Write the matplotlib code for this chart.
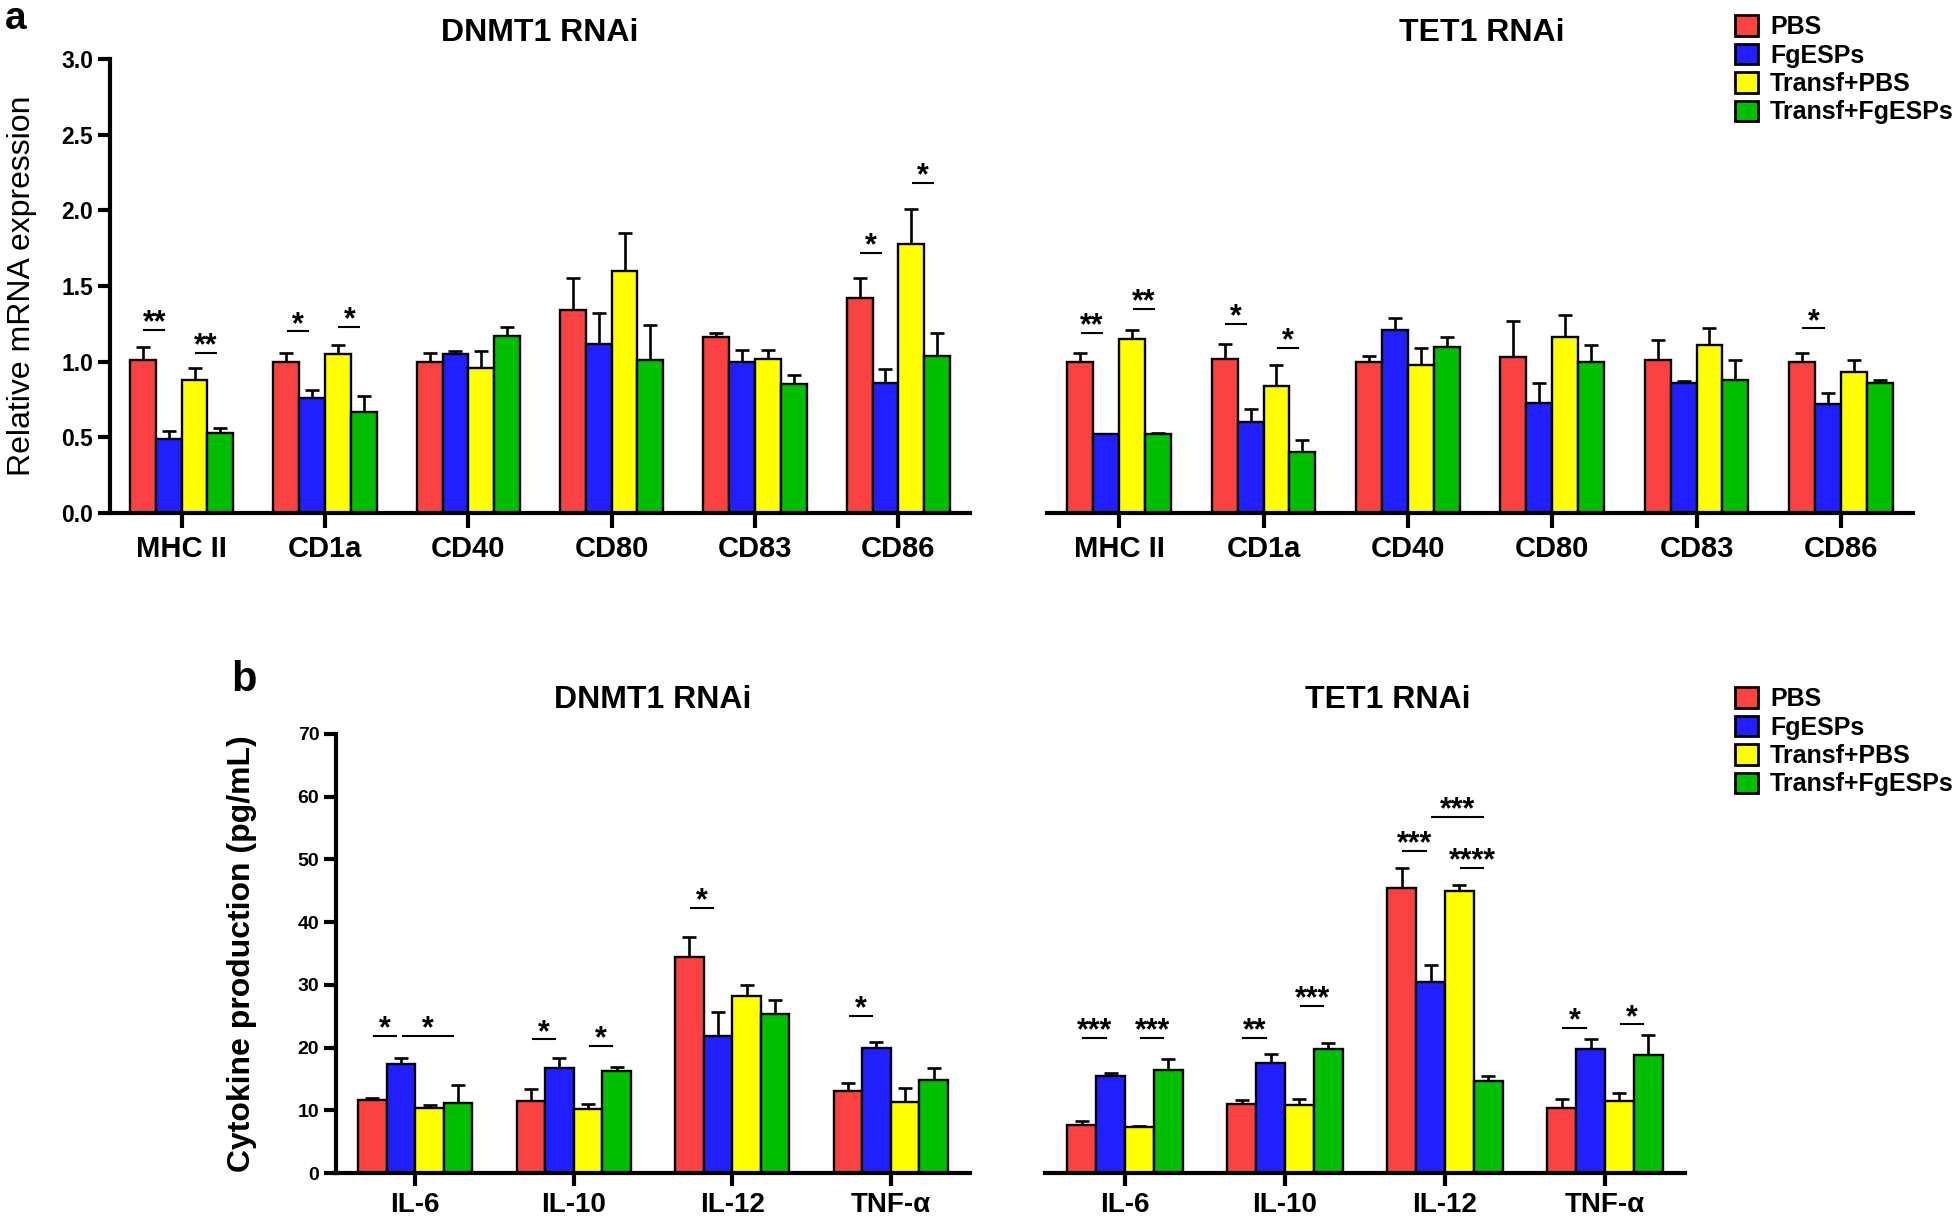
import matplotlib
matplotlib.use("Agg")
import matplotlib.pyplot as plt
import numpy as np
from matplotlib.patches import Patch
from matplotlib.ticker import FormatStrFormatter

plt.rcParams["font.family"] = ["Liberation Sans", "DejaVu Sans"]
plt.rcParams["font.weight"] = "bold"

# Groups and colours
groups = ["PBS", "FgESPs", "Transf+PBS", "Transf+FgESPs"]
colors = ["#FA4242", "#1F1FFF", "#FFFF00", "#00BE00"]

markers = ["MHC II", "CD1a", "CD40", "CD80", "CD83", "CD86"]
cytokines = ["IL-6", "IL-10", "IL-12", "TNF-α"]

# Relative mRNA expression, rows = groups, cols = markers
dnmt1_mrna = [
    [1.01, 1.00, 1.00, 1.34, 1.16, 1.42],
    [0.49, 0.76, 1.05, 1.12, 1.00, 0.86],
    [0.88, 1.05, 0.96, 1.60, 1.02, 1.78],
    [0.53, 0.67, 1.17, 1.01, 0.85, 1.04],
]
dnmt1_mrna_err = [
    [0.09, 0.06, 0.06, 0.21, 0.03, 0.13],
    [0.05, 0.05, 0.02, 0.20, 0.08, 0.09],
    [0.08, 0.06, 0.11, 0.25, 0.06, 0.23],
    [0.03, 0.10, 0.06, 0.23, 0.06, 0.15],
]
tet1_mrna = [
    [1.00, 1.02, 1.00, 1.03, 1.01, 1.00],
    [0.52, 0.60, 1.21, 0.73, 0.86, 0.72],
    [1.15, 0.84, 0.98, 1.16, 1.11, 0.93],
    [0.52, 0.40, 1.10, 1.00, 0.88, 0.86],
]
tet1_mrna_err = [
    [0.06, 0.10, 0.04, 0.24, 0.13, 0.06],
    [0.00, 0.09, 0.08, 0.13, 0.01, 0.07],
    [0.06, 0.14, 0.11, 0.15, 0.11, 0.08],
    [0.01, 0.08, 0.06, 0.11, 0.13, 0.02],
]

# Cytokine production (pg/mL), rows = groups, cols = cytokines
dnmt1_cyto = [
    [11.7, 11.5, 34.4, 13.0],
    [17.4, 16.7, 21.9, 19.9],
    [10.4, 10.2, 28.3, 11.4],
    [11.1, 16.3, 25.3, 14.8],
]
dnmt1_cyto_err = [
    [0.2, 1.9, 3.3, 1.3],
    [0.9, 1.6, 3.8, 1.0],
    [0.5, 0.8, 1.7, 2.2],
    [2.9, 0.6, 2.3, 2.0],
]
tet1_cyto = [
    [7.6, 11.0, 45.5, 10.4],
    [15.4, 17.6, 30.5, 19.8],
    [7.4, 10.9, 44.9, 11.5],
    [16.5, 19.8, 14.7, 18.8],
]
tet1_cyto_err = [
    [0.7, 0.6, 3.1, 1.4],
    [0.6, 1.4, 2.6, 1.6],
    [0.1, 0.9, 1.0, 1.3],
    [1.7, 0.9, 0.8, 3.2],
]

# Significance: (category, group i, group j, line height, label)
sig_a_dnmt1 = [(0, 0, 1, 1.21, "**"), (0, 2, 3, 1.06, "**"), (1, 0, 1, 1.20, "*"),
               (1, 2, 3, 1.23, "*"), (5, 0, 1, 1.72, "*"), (5, 2, 3, 2.18, "*")]
sig_a_tet1 = [(0, 0, 1, 1.19, "**"), (0, 2, 3, 1.35, "**"), (1, 0, 1, 1.25, "*"),
              (1, 2, 3, 1.09, "*"), (5, 0, 1, 1.22, "*")]
sig_b_dnmt1 = [(0, 0, 1, 21.8, "*"), (0, 1, 3, 21.8, "*"), (1, 0, 1, 21.3, "*"),
               (1, 2, 3, 20.2, "*"), (2, 0, 1, 42.2, "*"), (3, 0, 1, 25.1, "*")]
sig_b_tet1 = [(0, 0, 1, 21.5, "***"), (0, 2, 3, 21.6, "***"), (1, 0, 1, 21.6, "**"),
              (1, 2, 3, 26.7, "***"), (2, 0, 1, 51.3, "***"), (2, 2, 3, 48.7, "****"),
              (2, 1, 3, 56.8, "***"), (3, 0, 1, 23.2, "*"), (3, 2, 3, 23.7, "*")]

W, H = 1960, 1218
bar_w = 0.18
offsets = (np.arange(4) - 1.5) * bar_w


def px_axes(x0, x1, ytop, ybot):
    return [x0 / W, 1 - ybot / H, (x1 - x0) / W, (ybot - ytop) / H]


def draw_panel(ax, cats, means, errs, sigs, ylim, yticks, show_y, xfs, yfs, ticklen):
    x = np.arange(len(cats))
    for g in range(4):
        xs = x + offsets[g]
        ax.bar(xs, means[g], width=bar_w, color=colors[g], edgecolor="black",
               linewidth=1.7, zorder=2)
        ax.errorbar(xs, means[g], yerr=[np.zeros(len(cats)), errs[g]], fmt="none",
                    ecolor="black", elinewidth=1.9, capsize=5, capthick=1.9, zorder=1)
    for c, i, j, y, lab in sigs:
        x1 = x[c] + offsets[i] + 0.01
        x2 = x[c] + offsets[j] - 0.03
        ax.plot([x1, x2], [y, y], color="black", lw=1.5, clip_on=False)
        ax.annotate(lab, xy=((x1 + x2) / 2, y), xytext=(0, -1), textcoords="offset points",
                    ha="center", va="baseline", fontsize=22, fontweight="bold",
                    annotation_clip=False)
    ax.set_xlim(-0.5, len(cats) - 0.5)
    ax.set_ylim(*ylim)
    ax.set_xticks(x)
    ax.set_xticklabels(cats, fontsize=xfs, fontweight="bold")
    ax.tick_params(axis="x", length=ticklen, width=3, direction="out", pad=5)
    for s in ["top", "right"]:
        ax.spines[s].set_visible(False)
    ax.spines["bottom"].set_linewidth(3)
    if show_y:
        ax.spines["left"].set_linewidth(3)
        ax.set_yticks(yticks)
        ax.tick_params(axis="y", length=9, width=3, labelsize=yfs, pad=3)
        for t in ax.get_yticklabels():
            t.set_fontweight("bold")
    else:
        ax.spines["left"].set_visible(False)
        ax.tick_params(axis="y", left=False, labelleft=False)


fig = plt.figure(figsize=(W / 100, H / 100), dpi=100)

ax1 = fig.add_axes(px_axes(110, 970, 59, 513))
ax2 = fig.add_axes(px_axes(1047, 1913, 59, 513))
ax3 = fig.add_axes(px_axes(336, 970, 734, 1173))
ax4 = fig.add_axes(px_axes(1045, 1685, 734, 1173))

draw_panel(ax1, markers, dnmt1_mrna, dnmt1_mrna_err, sig_a_dnmt1, (0, 3.0),
           np.arange(0, 3.01, 0.5), True, 21, 16.5, 11)
ax1.yaxis.set_major_formatter(FormatStrFormatter("%.1f"))
draw_panel(ax2, markers, tet1_mrna, tet1_mrna_err, sig_a_tet1, (0, 3.0),
           None, False, 21, 16.5, 11)
draw_panel(ax3, cytokines, dnmt1_cyto, dnmt1_cyto_err, sig_b_dnmt1, (0, 70),
           np.arange(0, 71, 10), True, 20, 14, 9)
draw_panel(ax4, cytokines, tet1_cyto, tet1_cyto_err, sig_b_tet1, (0, 70),
           None, False, 20, 14, 9)

# Titles
fig.text(540 / W, 1 - 33 / H, "DNMT1 RNAi", ha="center", va="center", fontsize=23)
fig.text(1482 / W, 1 - 33 / H, "TET1 RNAi", ha="center", va="center", fontsize=23)
fig.text(653 / W, 1 - 700 / H, "DNMT1 RNAi", ha="center", va="center", fontsize=23)
fig.text(1388 / W, 1 - 700 / H, "TET1 RNAi", ha="center", va="center", fontsize=23)

# Axis labels
fig.text(22 / W, 1 - 286 / H, "Relative mRNA expression", rotation=90, ha="center",
         va="center", fontsize=23, fontweight="normal")
fig.text(242 / W, 1 - 954 / H, "Cytokine production (pg/mL)", rotation=90, ha="center",
         va="center", fontsize=23, fontweight="bold")

# Panel letters
fig.text(5 / W, 0.999, "a", fontsize=28, va="top")
fig.text(231 / W, 1 - 691 / H, "b", fontsize=30, va="baseline")

# Legends
handles = [Patch(facecolor=c, edgecolor="black", linewidth=2) for c in colors]
for top in (15, 687):
    fig.legend(handles, groups, loc="upper left", bbox_to_anchor=(1735 / W, 1 - top / H),
               frameon=False, fontsize=18, handlelength=0.9, handleheight=0.9,
               handletextpad=0.5, labelspacing=0.18, borderpad=0, borderaxespad=0)

fig.savefig("out.png", dpi=100)
